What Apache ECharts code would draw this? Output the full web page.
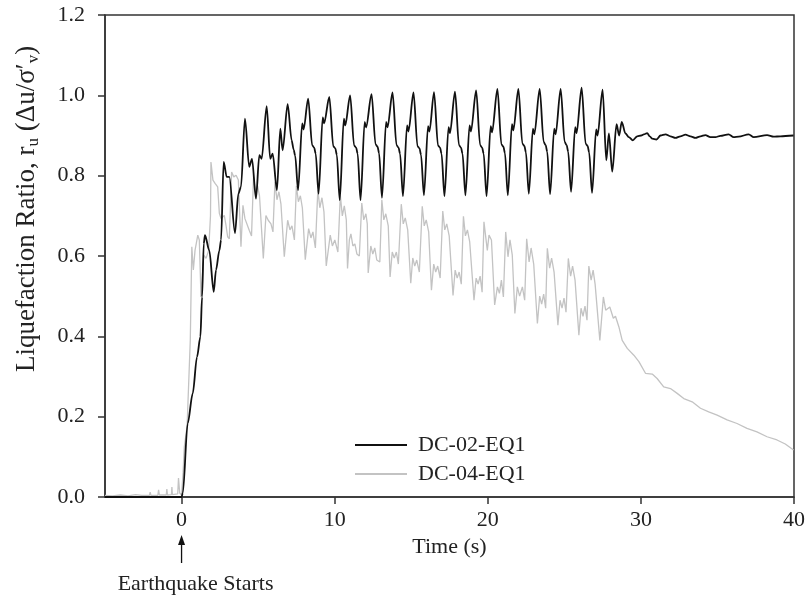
<!DOCTYPE html>
<html><head><meta charset="utf-8">
<script src="https://cdn.jsdelivr.net/npm/echarts@6/dist/echarts.min.js"></script>
<style>html,body{margin:0;padding:0;background:#fff}#c{width:808px;height:601px}</style>
</head><body><div id="c"></div>
<script>
const seriesNames = ['DC-02-EQ1', 'DC-04-EQ1'];
const xTicks = [0, 10, 20, 30, 40];
const yTicks = [0, 0.2, 0.4, 0.6, 0.8, 1.0, 1.2];
const xTitle = 'Time (s)';
const annotationText = 'Earthquake Starts';

// DC-02-EQ1 : [time (s), r_u]
const dc02 = [
[-5,0],[-2.5,0],[0,0],[0.08,0.01],[0.4,0.183],[0.73,0.258],[1.01,0.349],[1.23,0.399],[1.34,0.498],[1.45,0.631],[1.53,0.652],[1.81,0.614],[2.10,0.511],[2.25,0.565],[2.47,0.614],[2.58,0.64],[2.75,0.834],[2.95,0.797],[3.12,0.797],[3.49,0.657],[3.71,0.755],[3.88,0.772],[4.14,0.942],[4.42,0.822],[4.60,0.842],[4.86,0.743],[5.08,0.851],[5.23,0.842],[5.56,0.973],[5.79,0.842],[5.95,0.855],[6.23,0.764],[6.45,0.917],[6.60,0.863],[6.93,0.978],
[7.19,0.888],[7.32,0.865],[7.42,0.85],[7.61,0.764],[7.88,0.93],[7.97,0.915],[8.27,0.992],
[8.53,0.876],[8.66,0.870],[8.76,0.855],[8.95,0.755],[9.22,0.945],[9.31,0.93],[9.65,0.996],
[9.91,0.873],[10.04,0.868],[10.14,0.852],[10.33,0.739],[10.60,0.942],[10.69,0.925],[11.01,1.0],
[11.27,0.875],[11.40,0.87],[11.50,0.855],[11.69,0.739],[11.96,0.934],[12.05,0.92],[12.41,1.003],
[12.67,0.878],[12.80,0.872],[12.90,0.856],[13.09,0.745],[13.36,0.934],[13.45,0.92],[13.78,1.007],
[14.04,0.876],[14.17,0.87],[14.27,0.855],[14.46,0.749],[14.73,0.925],[14.82,0.91],[15.15,1.007],
[15.41,0.873],[15.54,0.868],[15.64,0.852],[15.83,0.751],[16.10,0.923],[16.19,0.91],[16.49,1.008],
[16.75,0.875],[16.88,0.87],[16.98,0.855],[17.17,0.749],[17.44,0.921],[17.53,0.906],[17.86,1.009],
[18.12,0.876],[18.25,0.87],[18.35,0.855],[18.54,0.751],[18.81,0.925],[18.90,0.91],[19.24,1.012],
[19.50,0.876],[19.63,0.87],[19.73,0.855],[19.92,0.749],[20.19,0.923],[20.28,0.908],[20.63,1.016],
[20.89,0.878],[21.02,0.872],[21.12,0.856],[21.31,0.751],[21.58,0.928],[21.67,0.913],[22.00,1.016],
[22.26,0.88],[22.39,0.874],[22.49,0.858],[22.68,0.755],[22.95,0.917],[23.04,0.903],[23.39,1.016],
[23.65,0.884],[23.78,0.876],[23.88,0.86],[24.07,0.754],[24.34,0.917],[24.43,0.903],[24.76,1.016],
[25.02,0.884],[25.15,0.876],[25.25,0.86],[25.44,0.76],[25.71,0.921],[25.80,0.906],[26.13,1.019],
[26.39,0.88],[26.52,0.874],[26.62,0.858],[26.81,0.757],[27.08,0.915],[27.17,0.90],[27.50,1.014],
[27.74,0.838],[27.91,0.905],[28.13,0.81],[28.41,0.928],[28.58,0.90],[28.75,0.934],[28.99,0.905],[29.21,0.896],[29.47,0.888],[29.76,0.898],[30.02,0.90],[30.19,0.903],[30.41,0.906],[30.58,0.898],[30.74,0.892],[31.02,0.89],[31.28,0.90],[31.61,0.903],[31.93,0.898],[32.26,0.894],[32.58,0.898],[32.91,0.902],[33.24,0.898],[33.56,0.894],[33.89,0.898],[34.21,0.901],[34.54,0.896],[34.87,0.896],[35.19,0.899],[35.73,0.903],[36.06,0.896],[36.39,0.897],[37.04,0.903],[37.37,0.896],[38.24,0.901],[38.67,0.897],[39.11,0.898],[39.97,0.90]
];

// DC-04-EQ1 : [time (s), r_u]
const dc04 = [
[-5,0.004],[-4.5,0.003],[-4.0,0.005],[-3.5,0.003],[-3.0,0.006],[-2.6,0.004],[-2.1,0.004],[-2.05,0.012],[-2.0,0.004],[-1.55,0.004],[-1.5,0.018],[-1.45,0.005],[-1.0,0.005],[-0.96,0.02],[-0.92,0.005],[-0.66,0.006],[-0.63,0.025],[-0.6,0.006],[-0.25,0.008],[-0.2,0.047],[-0.12,0.01],[0.0,0.005],[0.1,0.06],[0.18,0.125],[0.36,0.175],[0.57,0.39],
[0.67,0.623],[0.77,0.565],[0.88,0.614],[1.06,0.652],[1.16,0.64],[1.27,0.498],[1.45,0.602],[1.60,0.594],[1.77,0.614],[1.89,0.70],
[1.92,0.834],[2.05,0.789],[2.20,0.78],[2.36,0.772],[2.47,0.706],[2.58,0.693],[2.71,0.689],[2.79,0.701],[2.90,0.677],[3.01,0.648],[3.12,0.643],
[3.27,0.809],[3.41,0.797],[3.56,0.801],[3.71,0.789],[3.88,0.623],[4.01,0.726],[4.14,0.693],[4.27,0.689],[4.42,0.664],[4.57,0.65],
[4.70,0.797],[4.83,0.76],[4.96,0.775],[5.09,0.75],[5.34,0.594],[5.51,0.701],[5.66,0.689],[5.84,0.68],[5.97,0.66],
[6.10,0.785],[6.23,0.74],[6.36,0.76],[6.49,0.73],[6.71,0.598],[6.93,0.689],[7.08,0.665],[7.21,0.675],[7.37,0.64],
[7.50,0.775],[7.63,0.735],[7.76,0.75],[7.89,0.72],[8.08,0.591],[8.30,0.668],[8.45,0.645],[8.58,0.66],[8.74,0.62],
[8.90,0.765],[9.03,0.72],[9.17,0.745],[9.30,0.71],[9.45,0.575],[9.71,0.652],[9.85,0.625],[10.01,0.64],[10.21,0.61],
[10.37,0.751],[10.50,0.70],[10.63,0.725],[10.76,0.69],[10.84,0.569],[10.96,0.64],[11.06,0.655],[11.19,0.625],[11.32,0.63],[11.45,0.605],[11.61,0.60],
[11.77,0.732],[11.90,0.69],[12.04,0.705],[12.13,0.68],[12.19,0.558],[12.36,0.625],[12.49,0.605],[12.62,0.62],[12.75,0.59],[12.95,0.585],
[13.08,0.74],[13.21,0.69],[13.34,0.705],[13.50,0.675],[13.62,0.548],[13.76,0.61],[13.89,0.595],[14.03,0.61],[14.16,0.58],
[14.35,0.729],[14.48,0.68],[14.61,0.695],[14.77,0.665],[14.97,0.532],[15.10,0.595],[15.23,0.575],[15.36,0.59],[15.53,0.56],
[15.72,0.724],[15.85,0.675],[15.98,0.69],[16.14,0.66],[16.32,0.515],[16.47,0.58],[16.60,0.56],[16.73,0.575],[16.89,0.545],
[17.06,0.712],[17.19,0.665],[17.32,0.68],[17.48,0.65],[17.73,0.502],[17.87,0.565],[18.00,0.545],[18.13,0.56],[18.27,0.53],
[18.41,0.699],[18.54,0.65],[18.67,0.665],[18.82,0.635],[19.10,0.49],[19.24,0.545],[19.37,0.53],[19.50,0.55],[19.63,0.51],
[19.75,0.685],[19.97,0.614],[20.08,0.652],[20.24,0.64],[20.45,0.478],[20.63,0.523],[20.76,0.507],[20.89,0.54],[21.02,0.498],
[21.17,0.66],[21.32,0.598],[21.45,0.64],[21.60,0.602],[21.77,0.457],[21.93,0.523],[22.08,0.50],[22.26,0.523],[22.41,0.49],
[22.54,0.643],[22.70,0.585],[22.83,0.62],[23.00,0.58],[23.24,0.432],[23.39,0.50],[23.52,0.48],[23.65,0.505],[23.78,0.47],
[23.89,0.619],[24.04,0.57],[24.17,0.595],[24.33,0.56],[24.58,0.428],[24.72,0.49],[24.85,0.47],[24.98,0.495],[25.11,0.46],
[25.26,0.594],[25.41,0.55],[25.54,0.575],[25.70,0.54],[25.95,0.403],[26.09,0.47],[26.22,0.45],[26.35,0.475],[26.48,0.44],
[26.60,0.575],[26.75,0.54],[26.88,0.565],[27.01,0.53],[27.32,0.39],[27.55,0.498],[27.70,0.465],[27.97,0.473],[28.20,0.445],[28.34,0.45],[28.56,0.424],[28.78,0.39],[29.11,0.37],[29.54,0.353],[29.87,0.337],[30.30,0.308],[30.74,0.306],[31.06,0.295],[31.49,0.274],[31.93,0.27],[32.37,0.258],[32.80,0.245],[33.35,0.237],[33.89,0.221],[34.43,0.212],[34.98,0.204],[35.63,0.192],[36.28,0.183],[36.93,0.171],[37.58,0.162],[38.24,0.15],[38.89,0.142],[39.43,0.132],[39.97,0.117]
];

const FONT = '"Liberation Serif", "Times New Roman", serif';
const AX = '#333';
const chart = echarts.init(document.getElementById('c'), null, {renderer: 'canvas'});
chart.setOption({
  animation: false,
  backgroundColor: '#fff',
  grid: {left: 105, right: 12, top: 15, bottom: 104, show: true, borderColor: AX, borderWidth: 1.5, backgroundColor: 'transparent'},
  xAxis: {
    type: 'value', min: -5, max: 40,
    axisLine: {onZero: false, lineStyle: {color: AX, width: 1.5}},
    axisTick: {show: true, length: 7, customValues: xTicks, lineStyle: {color: AX, width: 1.5}},
    axisLabel: {customValues: xTicks, margin: 12, fontFamily: FONT, fontSize: 22, color: '#222'},
    splitLine: {show: false},
    name: xTitle, nameLocation: 'middle', nameGap: 38,
    nameTextStyle: {fontFamily: FONT, fontSize: 22, color: '#222'}
  },
  yAxis: {
    type: 'value', min: 0, max: 1.2,
    axisLine: {show: true, onZero: false, lineStyle: {color: AX, width: 1.5}},
    axisTick: {show: true, length: 7, customValues: yTicks, lineStyle: {color: AX, width: 1.5}},
    axisLabel: {customValues: yTicks, formatter: v => Number(v).toFixed(1), margin: 20, fontFamily: FONT, fontSize: 22, color: '#222'},
    splitLine: {show: false}
  },
  legend: {
    data: seriesNames, left: 350, top: 429, orient: 'vertical',
    icon: 'rect', itemWidth: 52, itemHeight: 2, itemGap: 7,
    textStyle: {fontFamily: FONT, fontSize: 22, color: '#222', lineHeight: 22, padding: [0, 0, 0, 6]}
  },
  series: [
    {name: seriesNames[1], type: 'line', data: dc04, symbol: 'none', showSymbol: false, z: 2,
     lineStyle: {color: '#c3c3c3', width: 1.3}, itemStyle: {color: '#c3c3c3'}},
    {name: seriesNames[0], type: 'line', data: dc02, symbol: 'none', showSymbol: false, z: 3,
     smooth: 0.3, smoothMonotone: 'x',
     lineStyle: {color: '#111', width: 1.8}, itemStyle: {color: '#111'}}
  ]
});

const x0 = chart.convertToPixel({xAxisIndex: 0}, 0);
chart.setOption({
  graphic: [
    {type: 'text', x: 27, y: 209, rotation: Math.PI / 2,
     style: {text: 'Liquefaction Ratio, r{s|u} (Δu/σ′{s|v})', fontFamily: FONT, fontSize: 27, fill: '#222',
       align: 'center', verticalAlign: 'middle', lineHeight: 27,
       rich: {s: {fontFamily: FONT, fontSize: 17, fill: '#222', lineHeight: 17, padding: [13, 0, 0, 0]}}}},
    {type: 'line', shape: {x1: x0, y1: 541, x2: x0, y2: 563}, style: {stroke: '#111', lineWidth: 1.3}},
    {type: 'polygon', shape: {points: [[x0, 535], [x0 - 3.5, 545], [x0 + 3.5, 545]]}, style: {fill: '#111'}},
    {type: 'text', x: x0 + 14, y: 584, style: {text: annotationText, fontFamily: FONT, fontSize: 22, fill: '#222', align: 'center', verticalAlign: 'middle'}}
  ]
});
</script>
</body></html>
